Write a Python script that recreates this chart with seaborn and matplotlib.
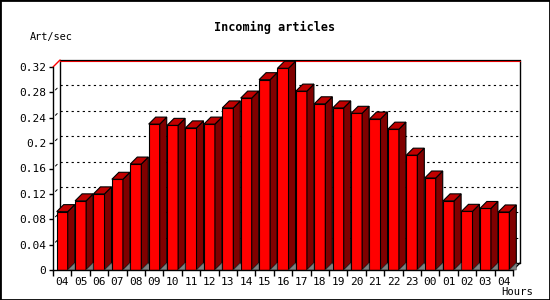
import numpy as np
import pandas as pd
import matplotlib
matplotlib.use("Agg")
import matplotlib.pyplot as plt
from matplotlib.patches import Polygon, Rectangle
import seaborn as sns

# hourly rate of incoming articles
hours = ["04", "05", "06", "07", "08", "09", "10", "11", "12", "13", "14", "15", "16",
         "17", "18", "19", "20", "21", "22", "23", "00", "01", "02", "03", "04"]
rate = [0.092, 0.109, 0.120, 0.143, 0.167, 0.230, 0.228, 0.224, 0.230, 0.2555, 0.271,
        0.300, 0.318, 0.282, 0.262, 0.2555, 0.247, 0.238, 0.222, 0.181, 0.145, 0.109,
        0.0925, 0.097, 0.0915]
y_ticks = [0, 0.04, 0.08, 0.12, 0.16, 0.2, 0.24, 0.28, 0.32]
y_labels = ["0", "0.04", "0.08", "0.12", "0.16", "0.2", "0.24", "0.28", "0.32"]

df = pd.DataFrame({"slot": range(len(hours)), "rate": rate})

sns.set_theme(style="white")
plt.rcParams["font.family"] = ["DejaVu Sans Mono", "DejaVu Sans"]

fig = plt.figure(figsize=(5.5, 3), dpi=100)
ax = fig.add_axes([53 / 550, 30 / 300, 460 / 550, 203 / 300])

sns.barplot(data=df, x="slot", y="rate", color="#ff0000", saturation=1,
            width=0.6, edgecolor="black", linewidth=0.8, ax=ax, zorder=3)

ax.set_xlim(-0.5, len(hours) - 0.5)
ax.set_ylim(0, 0.32)

# 3D depth, in data units (about 7 px each way)
dx = 7 * len(hours) / 460
dy = 7 * 0.32 / 203
px = 0.32 / 203
x_lo, x_hi = -0.5, len(hours) - 0.5
top = 0.32

# back plane + grid
for t in y_ticks[1:-1]:
    ax.plot([x_lo + dx, x_hi + dx], [t + dy, t + dy], color="black", lw=0.8,
            ls=(0, (2, 3)), clip_on=False, zorder=1)
    ax.plot([x_lo + dx * 0.35, x_lo + dx * 0.6], [t + dy * 0.35, t + dy * 0.6],
            color="black", lw=0.7, clip_on=False, zorder=1)
ax.plot([x_lo + dx, x_lo + dx], [dy, top + dy], color="black", lw=1, clip_on=False, zorder=1)
ax.plot([x_hi + dx, x_hi + dx], [dy, top + dy], color="black", lw=1, clip_on=False, zorder=1)
ax.plot([x_lo + dx, x_hi + dx], [dy, dy], color="black", lw=1, clip_on=False, zorder=1)
ax.plot([x_lo + dx, x_hi + dx], [top + dy - px, top + dy - px], color="red", lw=0.8,
        clip_on=False, zorder=2)
ax.plot([x_lo + dx, x_hi + dx], [top + dy + px * 0.3, top + dy + px * 0.3], color="black",
        lw=0.9, clip_on=False, zorder=2)
ax.plot([x_lo, x_lo + dx], [top, top + dy], color="red", lw=1, clip_on=False, zorder=2)
ax.plot([x_hi, x_hi + dx], [0, dy], color="black", lw=1, clip_on=False, zorder=2)

# side, top and floor faces from the seaborn bars
for bar in ax.patches:
    x0 = bar.get_x()
    x1 = x0 + bar.get_width()
    h = bar.get_height()
    side = Polygon([(x1, 0), (x1 + dx, dy), (x1 + dx, h + dy), (x1, h)],
                   facecolor="#800000", edgecolor="black", lw=0.8, zorder=3, clip_on=False)
    lid = Polygon([(x0, h), (x0 + dx, h + dy), (x1 + dx, h + dy), (x1, h)],
                  facecolor="#c00000", edgecolor="black", lw=0.8, zorder=3, clip_on=False)
    floor = Polygon([(x1, 0), (x1 + dx, dy), (x1 + dx, 0)],
                    facecolor="#808080", edgecolor="#404040", lw=0.4, zorder=4, clip_on=False)
    ax.add_patch(side)
    ax.add_patch(lid)
    ax.add_patch(floor)

# axes styling
for s in ["top", "right"]:
    ax.spines[s].set_visible(False)
for s in ["left", "bottom"]:
    ax.spines[s].set_color("black")
    ax.spines[s].set_linewidth(1)
    ax.spines[s].set_zorder(5)

ax.set_yticks(y_ticks)
ax.set_yticklabels(y_labels)
ax.set_xticks(range(len(hours)))
ax.set_xticklabels(hours)
ax.set_xticks(np.arange(-0.5, len(hours)), minor=True)
ax.tick_params(axis="x", which="major", length=0, pad=5, labelsize=8, colors="black")
ax.tick_params(axis="x", which="minor", length=4, width=1, color="black", direction="out", bottom=True)
ax.tick_params(axis="y", length=3, width=1, color="black", direction="out", left=True,
               labelsize=8, pad=2, labelcolor="black")
ax.set_xlabel("")
ax.set_ylabel("")
ax.grid(False)

fig.text(0.5, 1 - 27 / 300, "Incoming articles", ha="center", va="center",
         fontsize=8.5, fontweight="bold", color="black")
fig.text(30 / 550, 1 - 37 / 300, "Art/sec", ha="left", va="center", fontsize=7.4, color="black")
fig.text(533 / 550, 1 - 292 / 300, "Hours", ha="right", va="center", fontsize=7.6, color="black")

fig.patches.append(Rectangle((0, 0), 1, 1, transform=fig.transFigure, fill=False,
                             edgecolor="black", lw=2, zorder=10))

fig.savefig("out.png", dpi=100, facecolor="white")
